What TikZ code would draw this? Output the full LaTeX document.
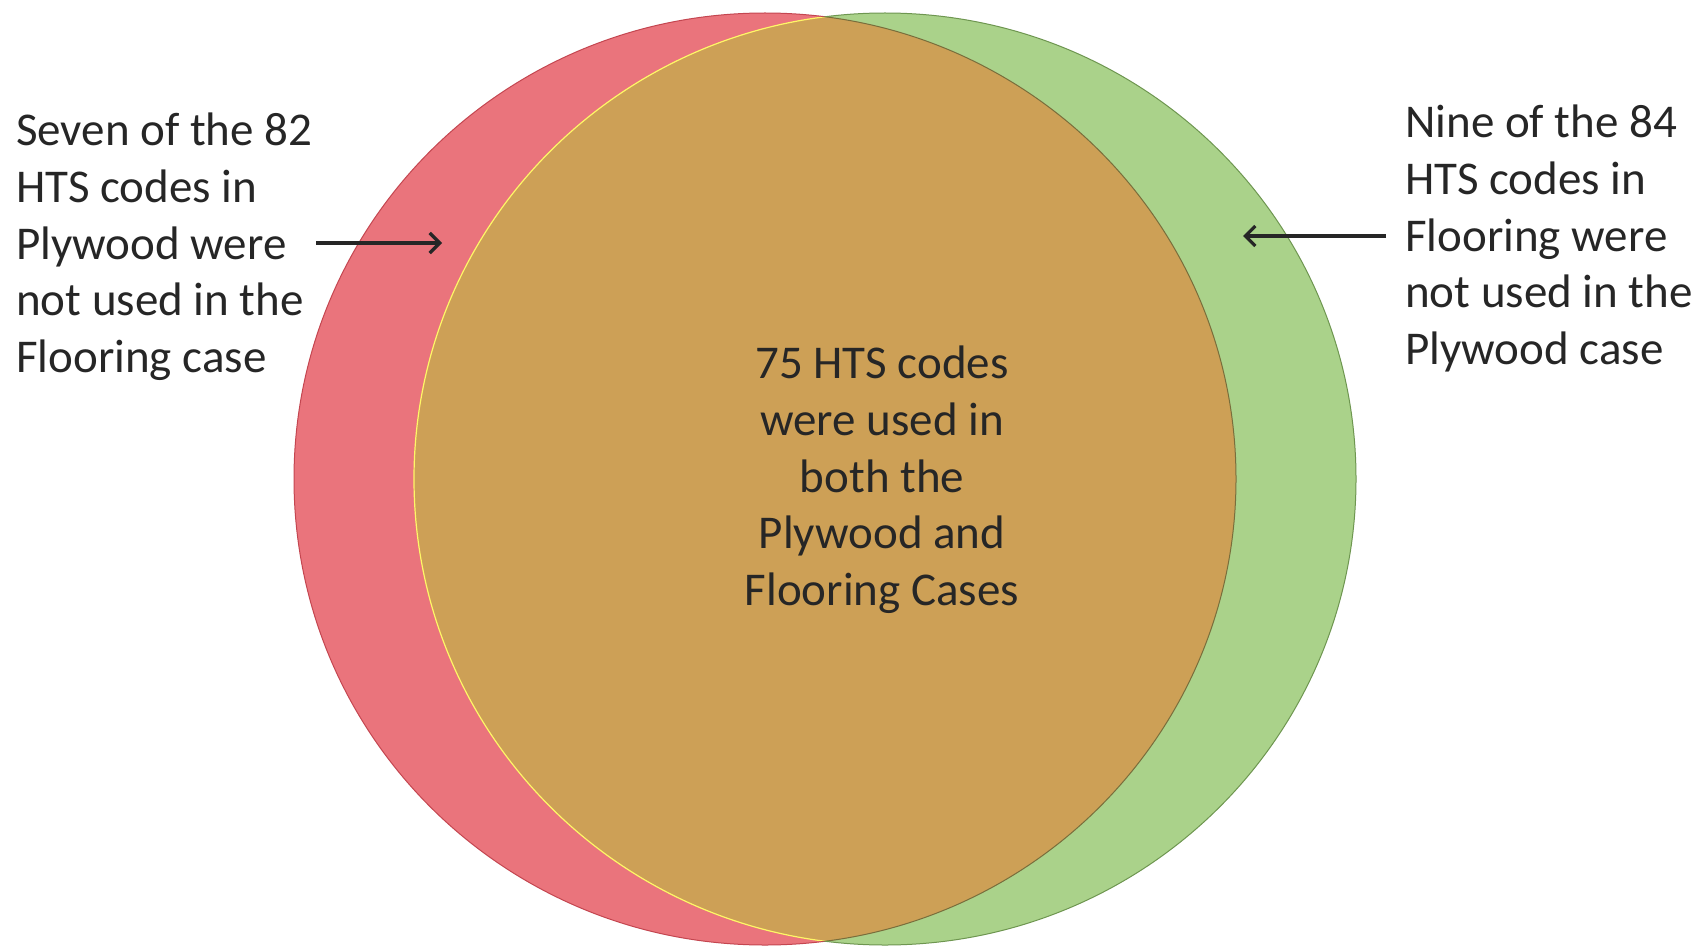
\documentclass[tikz,border=0pt]{standalone}
\usepackage{fontspec}
\setmainfont{Carlito}
\usetikzlibrary{arrows.meta}
\definecolor{setred}{RGB}{234,116,124}
\definecolor{setgreen}{RGB}{170,210,138}
\definecolor{setboth}{RGB}{205,160,86}
\definecolor{rededge}{RGB}{196,70,80}
\definecolor{greenedge}{RGB}{110,150,80}
\definecolor{bothedge}{RGB}{120,110,60}
\definecolor{txtgray}{RGB}{38,38,38}
\tikzset{
  lbl/.style={font=\fontsize{47pt}{56.6pt}\selectfont, text=txtgray, inner sep=0pt},
  pointer/.style={draw=txtgray, line width=3.4pt, -{Straight Barb[length=10pt,width=20pt,line width=3.2pt]}}
}
\begin{document}
\begin{tikzpicture}[x=1pt,y=-1pt]
\useasboundingbox (0,0) rectangle (1708,947);
\fill[white] (0,0) rectangle (1708,947);
% circles
\fill[setred] (765,479) ellipse [x radius=471, y radius=466];
\fill[setgreen] (885,479) ellipse [x radius=471, y radius=466];
\begin{scope}
  \clip (765,479) ellipse [x radius=471, y radius=466];
  \fill[setboth] (885,479) ellipse [x radius=471, y radius=466];
  \draw[line width=1.2pt, yellow!60!white] (885,479) ellipse [x radius=471, y radius=466];
\end{scope}
\begin{scope}
  \clip (885,479) ellipse [x radius=471, y radius=466];
  \draw[line width=1pt, bothedge] (765,479) ellipse [x radius=471, y radius=466];
\end{scope}
\begin{scope}
  \clip (0,0) rectangle (1708,947) (885,479) ellipse [x radius=471, y radius=466];
  \draw[line width=1pt, rededge] (765,479) ellipse [x radius=471, y radius=466];
\end{scope}
\begin{scope}[even odd rule]
  \clip (0,0) rectangle (1708,947) (765,479) ellipse [x radius=471, y radius=466];
  \draw[line width=1pt, greenedge] (885,479) ellipse [x radius=471, y radius=466];
\end{scope}
% texts
\node[lbl, align=left, anchor=north west] (lt) at (16,113)
  {Seven of the 82\\HTS codes in\\Plywood were\\not used in the\\Flooring case};
\node[lbl, align=left, anchor=north west] (rt) at (1405,105)
  {Nine of the 84\\HTS codes in\\Flooring were\\not used in the\\Plywood case};
\node[lbl, align=center, anchor=north] (ct) at (882,346)
  {75 HTS codes\\were used in\\both the\\Plywood and\\Flooring Cases};
% arrows
\coordinate (la1) at (316,243);
\coordinate (la2) at (442,243);
\coordinate (ra1) at (1386,236);
\coordinate (ra2) at (1243,236);
\draw[pointer] (la1) -- (la2);
\draw[pointer] (ra1) -- (ra2);
\end{tikzpicture}
\end{document}
